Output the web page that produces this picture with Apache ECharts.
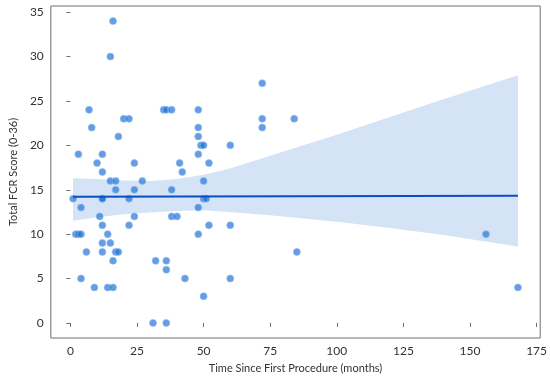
<!DOCTYPE html>
<html>
<head>
<meta charset="utf-8">
<script src="https://cdn.jsdelivr.net/npm/echarts@6/dist/echarts.min.js"></script>
<style>html,body{margin:0;padding:0;background:#fff}#c{width:550px;height:379px}</style>
</head>
<body>
<div id="c"></div>
<script>
// Scatter data: months since first procedure
const months = [16,15,72,7,35,36,38,48,20,22,72,84,8,48,72,18,48,49,50,60,3,12,48,10,24,41,52,12,42,15,17,27,50,17,24,38,1,12,12,22,50,51,4,48,11,24,38,40,12,22,52,60,2,3,4,14,48,156,12,15,6,12,17,18,85,16,32,36,36,4,43,60,9,14,16,168,50,31,36];
// Total FCR score
const scores = [34,30,27,24,24,24,24,24,23,23,23,23,22,22,22,21,21,20,20,20,19,19,19,18,18,18,18,17,17,16,16,16,16,15,15,15,14,14,14,14,14,14,13,13,12,12,12,12,11,11,11,11,10,10,10,10,10,10,9,9,8,8,8,8,8,7,7,7,6,5,5,5,4,4,4,4,3,0,0];
// Confidence band
const bandX = [1,10,20,30,40,50,60,80,100,120,140,168];
const bandUpper = [16.3,16.2,16.05,16.0,16.2,16.7,17.4,19.3,21.2,23.2,25.2,27.9];
const bandLower = [11.5,11.9,12.25,12.45,12.6,12.7,12.5,12.0,11.4,10.7,9.9,8.6];
const xTicks = [0,25,50,75,100,125,150,175];
const yTicks = [0,5,10,15,20,25,30,35];

// least-squares fit
const n = months.length;
const mx = months.reduce((a,b)=>a+b,0)/n;
const my = scores.reduce((a,b)=>a+b,0)/n;
let sxy=0,sxx=0;
for(let i=0;i<n;i++){sxy+=(months[i]-mx)*(scores[i]-my);sxx+=(months[i]-mx)**2;}
const slope = sxy/sxx, icpt = my - slope*mx;
const xmin = Math.min(...months), xmax = Math.max(...months);
const fitLine = [[xmin, icpt+slope*xmin],[xmax, icpt+slope*xmax]];

const pts = months.map((m,i)=>[m,scores[i]]);
const font = 'Lato, "Open Sans", sans-serif';
const chart = echarts.init(document.getElementById('c'), null, {renderer:'canvas'});
chart.setOption({
  animation:false,
  grid:{left:46,right:8,top:6,bottom:38,show:true,borderColor:'#6e6e6e',borderWidth:1,backgroundColor:'transparent'},
  xAxis:{type:'value',min:-7.35,max:176.35,
    axisLine:{show:false},splitLine:{show:false},
    axisTick:{show:true,customValues:xTicks,length:4,lineStyle:{color:'#6e6e6e'}},
    axisLabel:{customValues:xTicks,color:'#333',fontSize:12,fontFamily:font,margin:7},
    name:'Time Since First Procedure (months)',nameLocation:'middle',nameGap:25,
    nameTextStyle:{color:'#333',fontSize:11,fontFamily:font}},
  yAxis:{type:'value',min:-1.7,max:35.7,
    axisLine:{show:false},splitLine:{show:false},
    axisTick:{show:true,customValues:yTicks,length:4,lineStyle:{color:'#6e6e6e'}},
    axisLabel:{customValues:yTicks,color:'#333',fontSize:12,fontFamily:font,margin:7},
    name:'Total FCR Score (0-36)',nameLocation:'middle',nameGap:28,nameRotate:90,
    nameTextStyle:{color:'#333',fontSize:11,fontFamily:font}},
  series:[
    {type:'custom',z:1,silent:true,data:[0],
     renderItem:function(params,api){
       const p=[];
       for(let i=0;i<bandX.length;i++)p.push(api.coord([bandX[i],bandUpper[i]]));
       for(let i=bandX.length-1;i>=0;i--)p.push(api.coord([bandX[i],bandLower[i]]));
       return {type:'polygon',shape:{points:p},style:{fill:'#d5e3f7'}};
     }},
    {type:'scatter',z:3,data:pts,symbolSize:7,
     itemStyle:{color:'rgba(28,112,214,0.85)',borderColor:'rgba(140,185,240,1)',borderWidth:0.8}},
    {type:'line',z:4,data:fitLine,symbol:'none',lineStyle:{color:'#0a4dbf',width:2}}
  ]
});
</script>
</body>
</html>
